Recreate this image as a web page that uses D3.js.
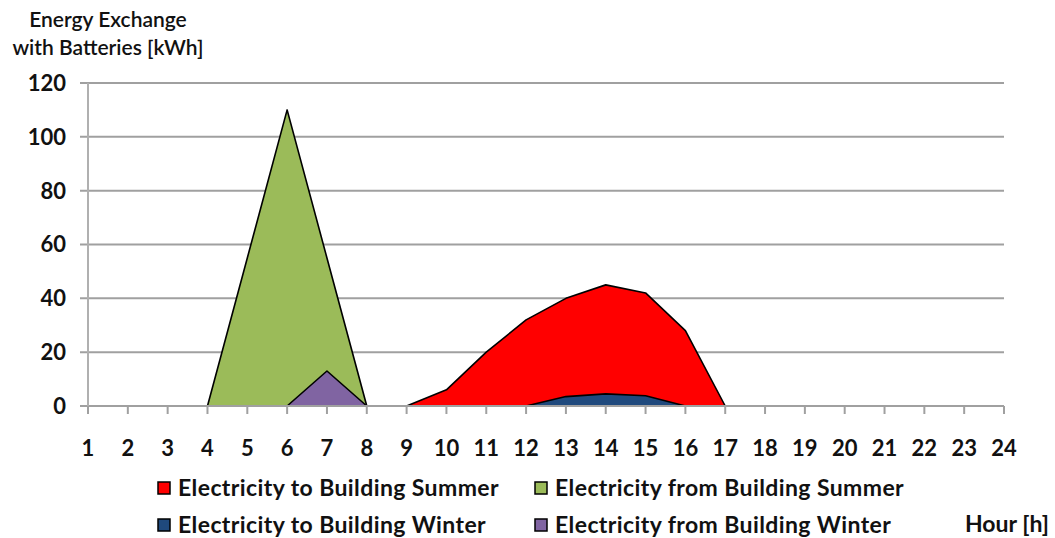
<!DOCTYPE html>
<html><head><meta charset="utf-8">
<script src="https://cdn.jsdelivr.net/npm/d3@7"></script>
<style>
body{margin:0;background:#fff;}
text{font-family:Lato,"Open Sans",sans-serif;font-weight:bold;fill:#111;}
</style></head>
<body><svg id="c" width="1055" height="538"></svg>
<script>
const hours = [1,2,3,4,5,6,7,8,9,10,11,12,13,14,15,16,17,18,19,20,21,22,23,24];
const yTicks = [0,20,40,60,80,100,120];
const toSummer   = [0,0,0,0,0,0,0,0,0,6,20,32,40,45,42,28,0,0,0,0,0,0,0,0];
const fromSummer = [0,0,0,0,55,110,55,0,0,0,0,0,0,0,0,0,0,0,0,0,0,0,0,0];
const toWinter   = [0,0,0,0,0,0,0,0,0,0,0,0,3.5,4.5,3.8,0,0,0,0,0,0,0,0,0];
const fromWinter = [0,0,0,0,0,0,13,0,0,0,0,0,0,0,0,0,0,0,0,0,0,0,0,0];
const seriesNames = ["Electricity to Building Summer","Electricity from Building Summer","Electricity to Building Winter","Electricity from Building Winter"];
const seriesColors = ["#FF0000","#9BBB59","#1F497D","#8064A2"];
const seriesValues = [toSummer, fromSummer, toWinter, fromWinter];

const svg = d3.select("#c");
const x = d3.scaleLinear().domain([1,24]).range([88,1004]);
const y = d3.scaleLinear().domain([0,120]).range([406,83]);

// gridlines
svg.append("g").selectAll("line").data(yTicks.filter(d=>d>0)).join("line")
  .attr("x1",80).attr("x2",1004).attr("y1",d=>y(d)).attr("y2",d=>y(d))
  .attr("stroke","#a0a0a0").attr("stroke-width",2);

// areas
const area = d3.area().x((d,i)=>x(hours[i])).y0(y(0)).y1(d=>y(d));
const line = d3.line().x((d,i)=>x(hours[i])).y(d=>y(d));
seriesValues.forEach((vals,k)=>{
  svg.append("path").attr("d",area(vals)).attr("fill",seriesColors[k]);
  svg.append("path").attr("d",line(vals)).attr("fill","none").attr("stroke","#000").attr("stroke-width",1.6).attr("stroke-linejoin","round");
});

// axes
svg.append("line").attr("x1",80).attr("x2",1004).attr("y1",y(0)).attr("y2",y(0)).attr("stroke","#a0a0a0").attr("stroke-width",2);
svg.append("line").attr("x1",88).attr("x2",88).attr("y1",y(120)).attr("y2",414).attr("stroke","#b0b0b0").attr("stroke-width",2);
svg.append("g").selectAll("line").data(hours).join("line")
  .attr("x1",d=>x(d)).attr("x2",d=>x(d)).attr("y1",y(0)).attr("y2",414)
  .attr("stroke","#a0a0a0").attr("stroke-width",2);

// y labels
svg.append("g").selectAll("text").data(yTicks).join("text")
  .attr("x",66).attr("y",d=>y(d)).attr("dy","0.36em").attr("text-anchor","end")
  .style("font-size","22px").text(d=>d);
// x labels
svg.append("g").selectAll("text").data(hours).join("text")
  .attr("x",d=>x(d)).attr("y",448).attr("dy","0.36em").attr("text-anchor","middle")
  .style("font-size","22px").text(d=>d);

// title
svg.append("text").attr("x",108).attr("y",19).attr("dy","0.36em").attr("text-anchor","middle").style("font-size","21px").style("font-weight","600").text("Energy Exchange");
svg.append("text").attr("x",108).attr("y",47).attr("dy","0.36em").attr("text-anchor","middle").style("font-size","21px").style("font-weight","600").text("with Batteries [kWh]");

// legend
const legPos = [[158,488],[535,488],[158,525],[535,525]];
seriesNames.forEach((n,k)=>{
  const [lx,ly]=legPos[k];
  svg.append("rect").attr("x",lx).attr("y",ly-6).attr("width",12).attr("height",12)
    .attr("fill",seriesColors[k]).attr("stroke","#000").attr("stroke-width",1.5);
  svg.append("text").attr("x",lx+20).attr("y",ly).attr("dy","0.36em").style("font-size","23px").style("letter-spacing","0.4px").text(n);
});
svg.append("text").attr("x",965).attr("y",524).attr("dy","0.36em").style("font-size","23px").text("Hour [h]");
</script></body></html>
